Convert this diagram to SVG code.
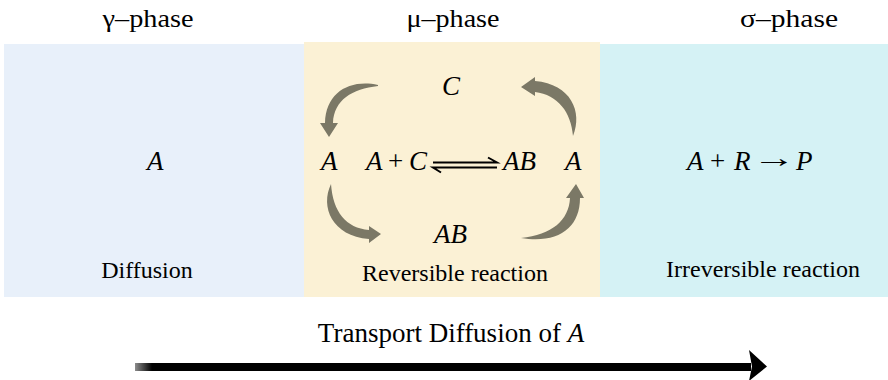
<svg xmlns="http://www.w3.org/2000/svg" width="888" height="380" viewBox="0 0 888 380">
<defs>
<style>
text{font-family:"Liberation Serif","Times New Roman",serif;fill:#000}
.t{font-size:26px;text-anchor:middle}
.l{font-size:24px;text-anchor:middle}
.m{font-size:27px;font-style:italic}
.up{font-size:27px;font-style:normal}
.cyc{fill:#7b7866}
</style>
<linearGradient id="fade" x1="135" y1="0" x2="152" y2="0" gradientUnits="userSpaceOnUse">
<stop offset="0" stop-color="#000" stop-opacity="0.45"/>
<stop offset="1" stop-color="#000"/>
</linearGradient>
</defs>
<rect width="888" height="380" fill="#fff"/>
<g id="gamma">
<rect x="4" y="44" width="300" height="253" fill="#e8f0fa"/>
<text class="t" x="148" y="27" textLength="91" lengthAdjust="spacingAndGlyphs">γ–phase</text>
<text class="m" x="147" y="170">A</text>
<text class="l" x="147" y="278">Diffusion</text>
</g>
<g id="mu">
<rect x="304" y="42" width="296" height="255" fill="#fbf1d5"/>
<text class="t" x="453" y="27" textLength="93" lengthAdjust="spacingAndGlyphs">μ–phase</text>
<text class="m" x="442" y="95">C</text>
<text class="m" x="321" y="170">A</text>
<text class="m" y="170"><tspan x="366">A</tspan><tspan class="up" x="388">+</tspan><tspan x="409">C</tspan></text>
<text class="m" x="503" y="170">AB</text>
<text class="m" x="565" y="170">A</text>
<text class="m" x="434" y="243">AB</text>
<text class="l" x="455" y="281">Reversible reaction</text>
<g fill="none" stroke="#000" stroke-width="2">
<path d="M433,162.5 H497 L488,157.5"/>
<path d="M497,167.5 H433 L441,172.5"/>
</g>
</g>
<g id="sigma">
<rect x="600" y="44" width="288" height="253" fill="#d5f2f5"/>
<text class="t" x="789" y="27" textLength="98" lengthAdjust="spacingAndGlyphs">σ–phase</text>
<text class="m" y="170"><tspan x="687">A</tspan><tspan class="up" x="710">+</tspan><tspan x="734">R</tspan><tspan x="796">P</tspan></text>
<text class="up" x="0" y="0" transform="translate(752,167) scale(1.6,1)">→</text>
<text class="l" x="763" y="277">Irreversible reaction</text>
</g>
<g id="connectors">
<path class="cyc" d="M378,85 C350,79 326,92 325,123 L320,123 L329,137 L338,123 L333,123 C334,100 352,89 378,86 Z"/>
<path class="cyc" d="M573,136 C583,112 571,84 535,81 L535,77 L521,87 L535,96 L535,92 C558,95 571,112 573,136 Z"/>
<path class="cyc" d="M331,184 C320,207 332,236 369,239 L369,243 L381,234 L369,226 L369,230 C346,228 333,212 331,184 Z"/>
<path class="cyc" d="M521,238 C552,235 569,220 570,198 L566,198 L576,184 L584,198 L580,198 C580,228 558,244 521,238 Z"/>
<rect x="135" y="363" width="616" height="8" fill="url(#fade)"/>
<path d="M749,350 L767,366.5 L749,381 L752,366.5 Z" fill="#000"/>
</g>
<text x="451" y="342" style="font-size:27px;text-anchor:middle">Transport Diffusion of <tspan font-style="italic">A</tspan></text>
</svg>
